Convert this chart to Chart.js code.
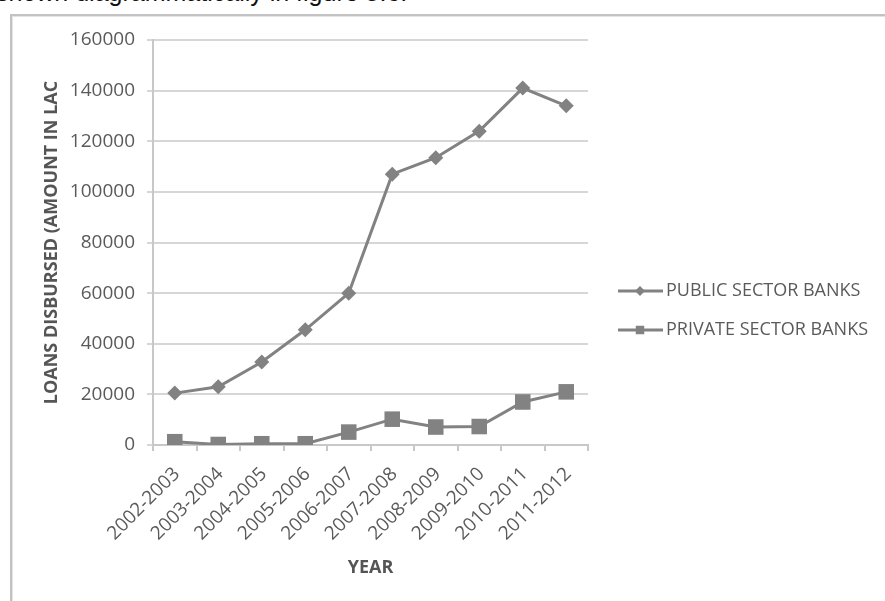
<!DOCTYPE html>
<html>
<head>
<meta charset="utf-8">
<script src="https://cdn.jsdelivr.net/npm/chart.js@4/dist/chart.umd.min.js"></script>
<style>
  html, body { margin: 0; padding: 0; background: #fff; width: 885px; height: 601px; overflow: hidden; }
  #caption { position: absolute; left: -4px; top: -20px; font: 25px/25px "Liberation Sans", Arial, sans-serif; color: #111; white-space: nowrap; }
  #frame { position: absolute; left: 10px; top: 14px; width: 900px; height: 620px;
           border-left: 2px solid #c2c2c2; border-top: 2px solid #c2c2c2;
           box-shadow: inset 1px 1px 0 #e4e4e4; }
  #wrap { position: absolute; left: 0; top: 0; width: 885px; height: 601px; }
</style>
</head>
<body>
<div id="caption">shown diagrammatically in figure 5.6.</div>
<div id="frame"></div>
<div id="wrap"><canvas id="c" width="885" height="601"></canvas></div>
<script>
// Loans disbursed, amount in lakh
const years = ['2002-2003', '2003-2004', '2004-2005', '2005-2006', '2006-2007',
               '2007-2008', '2008-2009', '2009-2010', '2010-2011', '2011-2012'];
const publicSectorBanks  = [20500, 23000, 32800, 45500, 60000, 107000, 113500, 124000, 141000, 134000];
const privateSectorBanks = [1300, 200, 500, 500, 5100, 10200, 7100, 7300, 17000, 21000];
const yTicks = [0, 20000, 40000, 60000, 80000, 100000, 120000, 140000, 160000];
const seriesNames = ['PUBLIC SECTOR BANKS', 'PRIVATE SECTOR BANKS'];

const GREY = '#828282';
const TEXT = '#5a5a5a';
const FONT = 'Open Sans';

// Excel-style legend: short line with the series marker, then the name
const sideLegend = {
  id: 'sideLegend',
  afterDraw(chart) {
    const ctx = chart.ctx;
    const rows = [291, 330];
    chart.data.datasets.forEach((ds, i) => {
      const y = rows[i];
      ctx.save();
      ctx.strokeStyle = ds.borderColor;
      ctx.lineWidth = 3;
      ctx.beginPath();
      ctx.moveTo(618, y);
      ctx.lineTo(663, y);
      ctx.stroke();
      ctx.fillStyle = ds.pointBackgroundColor;
      Chart.helpers.drawPoint(ctx, {
        pointStyle: ds.pointStyle,
        radius: ds.pointStyle === 'rect' ? 6 : 5,
        borderWidth: 0,
        rotation: 0
      }, 640, y);
      ctx.fillStyle = TEXT;
      ctx.font = '18px "' + FONT + '"';
      ctx.textBaseline = 'middle';
      ctx.textAlign = 'left';
      ctx.fillText(ds.label, 666, y);
      ctx.restore();
    });
  }
};

new Chart(document.getElementById('c'), {
  type: 'line',
  data: {
    labels: years,
    datasets: [
      {
        label: seriesNames[0],
        data: publicSectorBanks,
        borderColor: GREY,
        borderWidth: 3,
        pointStyle: 'rectRot',
        pointRadius: 7.5,
        pointBackgroundColor: GREY,
        pointBorderWidth: 0,
        tension: 0
      },
      {
        label: seriesNames[1],
        data: privateSectorBanks,
        borderColor: GREY,
        borderWidth: 3,
        pointStyle: 'rect',
        pointRadius: 11,
        pointBackgroundColor: GREY,
        pointBorderWidth: 0,
        tension: 0
      }
    ]
  },
  options: {
    responsive: false,
    animation: false,
    devicePixelRatio: 1,
    layout: { padding: { top: 40, right: 297, left: 0, bottom: 0 } },
    plugins: { legend: { display: false }, tooltip: { enabled: false } },
    scales: {
      x: {
        type: 'category',
        offset: true,
        grid: { drawOnChartArea: false, drawTicks: true, tickLength: 6, color: '#c8c8c8', lineWidth: 2, offset: true },
        border: { color: '#c8c8c8', width: 2 },
        ticks: {
          minRotation: 45, maxRotation: 45, autoSkip: false,
          padding: 12, labelOffset: 2,
          color: TEXT, font: { family: FONT, size: 19 }
        },
        title: {
          display: true, text: 'YEAR', color: '#555',
          font: { family: FONT, size: 18, weight: 'bold' },
          padding: { top: 0, bottom: 22 }
        },
        afterFit(scale) { scale.height = 156; }
      },
      y: {
        min: 0,
        max: 160000,
        afterBuildTicks(scale) { scale.ticks = yTicks.map(v => ({ value: v })); },
        grid: { color: '#d6d6d6', lineWidth: 2, tickLength: 6 },
        border: { color: '#c8c8c8', width: 2 },
        ticks: {
          padding: 12,
          color: TEXT,
          font: { family: FONT, size: 19 },
          callback: v => String(v)
        },
        title: {
          display: true, text: 'LOANS DISBURSED (AMOUNT IN LAC', color: '#555',
          font: { family: FONT, size: 18, weight: 'bold' },
          padding: { top: 41, bottom: 0 }
        },
        afterFit(scale) { scale.width = 153; }
      }
    }
  },
  plugins: [sideLegend]
});
</script>
</body>
</html>
